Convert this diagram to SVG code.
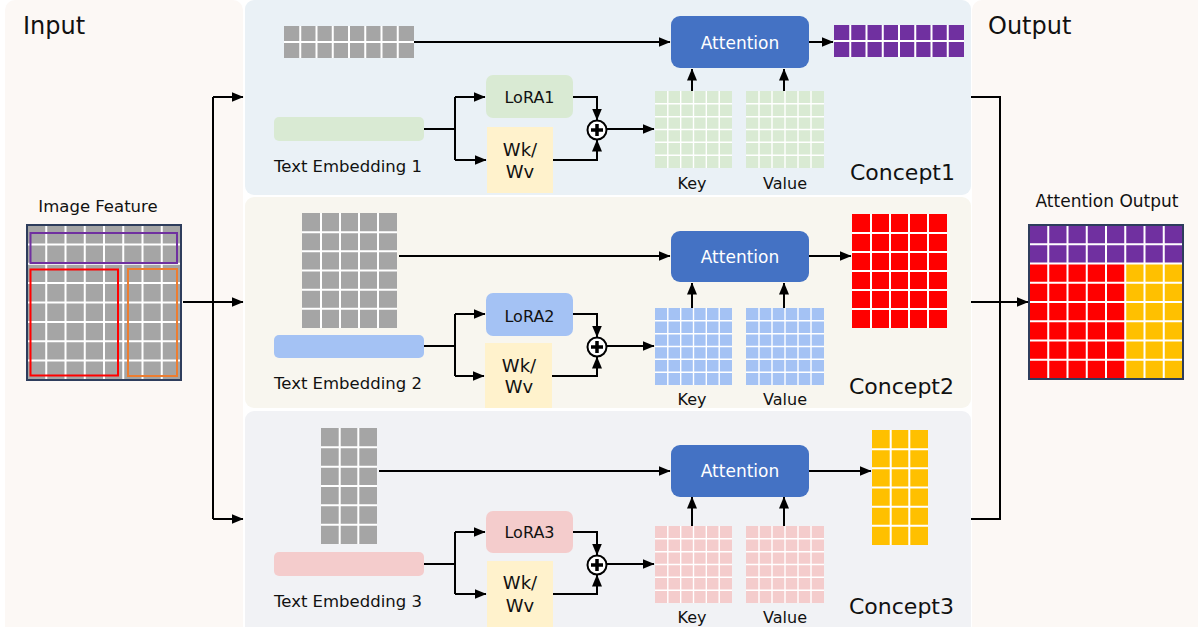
<svg xmlns="http://www.w3.org/2000/svg" width="1198" height="627" viewBox="0 0 1198 627">
<defs>
<marker id="ah" markerUnits="userSpaceOnUse" markerWidth="12" markerHeight="10" refX="11.5" refY="5" orient="auto">
<path d="M0,0 L12,5 L0,10 z" fill="#000"/>
</marker>
<style>
text{font-family:"DejaVu Sans","Liberation Sans",sans-serif;fill:#111}
.c{stroke:#000;stroke-width:2;fill:none}
.a{stroke:#000;stroke-width:2;fill:none;marker-end:url(#ah)}
.gw{stroke:#fff;stroke-width:2;fill:none}
.gt{stroke:#fff;stroke-width:1.4;fill:none}
.att{fill:#4472C4}
.attt{fill:#fff;font-size:17px;text-anchor:middle}
.wk{fill:#FFF2CC}
.lbl{font-size:16px}
.te{font-size:16.5px}
.mid{text-anchor:middle}
.con{font-size:22px}
.gray{fill:#A5A5A5}
</style>
</defs>
<rect width="1198" height="627" fill="#fff"/>
<!-- background panels -->
<rect x="5" y="0" width="238" height="640" rx="10" fill="#FCF8F5"/>
<rect x="972" y="0" width="240" height="640" rx="10" fill="#FCF8F5"/>
<rect x="245" y="0" width="726" height="195" rx="9" fill="#EAF1F6"/>
<rect x="245" y="197" width="726" height="211" rx="9" fill="#F8F6EF"/>
<rect x="245" y="411" width="726" height="225" rx="9" fill="#F1F2F5"/>

<text x="23" y="34" style="font-size:24px">Input</text>
<text x="988" y="34" style="font-size:24px">Output</text>

<!-- Image Feature -->
<g id="image-feature">
<text x="98" y="212" class="mid" style="font-size:16.5px">Image Feature</text>
<rect x="27" y="225" width="154" height="155" class="gray"/>
<path class="gw" d="M46.25 225V380M65.5 225V380M84.75 225V380M104 225V380M123.25 225V380M142.5 225V380M161.75 225V380M27 244.4H181M27 263.75H181M27 283.1H181M27 302.5H181M27 321.9H181M27 341.25H181M27 360.6H181"/>
<rect x="27" y="225" width="154" height="155" fill="none" stroke="#2E3D5C" stroke-width="2"/>
<rect x="30.5" y="233" width="146.5" height="30" fill="none" stroke="#7030A0" stroke-width="2"/>
<rect x="30.5" y="269.5" width="87.5" height="106" fill="none" stroke="#FF0000" stroke-width="2"/>
<rect x="128" y="269" width="49" height="107" fill="none" stroke="#ED7D31" stroke-width="2"/>
</g>

<!-- Attention Output -->
<g id="attention-output">
<text x="1107" y="207" class="mid" style="font-size:17px">Attention Output</text>
<rect x="1029" y="225" width="154" height="38.5" fill="#7030A0"/>
<rect x="1029" y="263.5" width="96.25" height="115.5" fill="#FF0000"/>
<rect x="1125.25" y="263.5" width="57.75" height="115.5" fill="#FFC000"/>
<path class="gw" d="M1048.25 225V379M1067.5 225V379M1086.75 225V379M1106 225V379M1125.25 225V379M1144.5 225V379M1163.75 225V379M1029 244.25H1183M1029 263.5H1183M1029 282.75H1183M1029 302H1183M1029 321.25H1183M1029 340.5H1183M1029 359.75H1183"/>
<rect x="1029" y="225" width="154" height="154" fill="none" stroke="#2E3D5C" stroke-width="2"/>
</g>

<!-- Concept 1 -->
<g id="concept1">
<rect x="284" y="26" width="130" height="32" class="gray"/>
<path class="gw" d="M300.25 26V58M316.5 26V58M332.75 26V58M349 26V58M365.25 26V58M381.5 26V58M397.75 26V58M284 42H414"/>
<rect x="274" y="117" width="150" height="24" rx="5" fill="#D9EAD3"/>
<text x="274" y="172" class="te">Text Embedding 1</text>
<rect x="486" y="75" width="87" height="43" rx="7" fill="#D9EAD3"/>
<text x="529.5" y="103" class="lbl mid">LoRA1</text>
<rect x="487" y="127" width="66" height="66" class="wk"/>
<text x="520" y="156" class="mid" style="font-size:18px">Wk/</text>
<text x="520" y="178" class="mid" style="font-size:18px">Wv</text>
<rect x="671" y="16" width="138" height="52" rx="9" class="att"/>
<text x="740" y="49" class="attt">Attention</text>
<rect x="834" y="25" width="130" height="32" fill="#7030A0"/>
<path class="gw" d="M850.25 25V57M866.5 25V57M882.75 25V57M899 25V57M915.25 25V57M931.5 25V57M947.75 25V57M834 41H964"/>
<rect x="655" y="91" width="77" height="77" fill="#D9EAD3"/>
<path class="gt" d="M667.8 91V168M680.7 91V168M693.5 91V168M706.3 91V168M719.2 91V168M655 103.8H732M655 116.7H732M655 129.5H732M655 142.3H732M655 155.2H732"/>
<rect x="746" y="91" width="78" height="77" fill="#D9EAD3"/>
<path class="gt" d="M759 91V168M772 91V168M785 91V168M798 91V168M811 91V168M746 103.8H824M746 116.7H824M746 129.5H824M746 142.3H824M746 155.2H824"/>
<text x="692" y="189" class="lbl mid">Key</text>
<text x="785" y="189" class="lbl mid">Value</text>
<text x="850" y="180" class="con">Concept1</text>
<circle cx="597" cy="130" r="9.5" fill="#fff" stroke="#000" stroke-width="2"/>
<path d="M591 130H603M597 124V136" stroke="#000" stroke-width="3.5"/>
</g>

<!-- Concept 2 -->
<g id="concept2">
<rect x="302" y="213" width="95" height="115" class="gray"/>
<path class="gw" d="M321 213V328M340 213V328M359 213V328M378 213V328M302 232.2H397M302 251.3H397M302 270.5H397M302 289.7H397M302 308.8H397"/>
<rect x="274" y="335" width="150" height="23" rx="5" fill="#A4C2F4"/>
<text x="274" y="389" class="te">Text Embedding 2</text>
<rect x="486" y="293" width="87" height="43" rx="7" fill="#A4C2F4"/>
<text x="529.5" y="322" class="lbl mid">LoRA2</text>
<rect x="485" y="343" width="67" height="65" class="wk"/>
<text x="519" y="372" class="mid" style="font-size:18px">Wk/</text>
<text x="519" y="393" class="mid" style="font-size:18px">Wv</text>
<rect x="671" y="231" width="138" height="51" rx="9" class="att"/>
<text x="740" y="263" class="attt">Attention</text>
<rect x="852" y="214" width="95" height="114" fill="#FF0000"/>
<path class="gw" d="M871 214V328M890 214V328M909 214V328M928 214V328M852 233H947M852 252H947M852 271H947M852 290H947M852 309H947"/>
<rect x="655" y="308" width="77" height="77" fill="#A4C2F4"/>
<path class="gt" d="M667.8 308V385M680.7 308V385M693.5 308V385M706.3 308V385M719.2 308V385M655 320.8H732M655 333.7H732M655 346.5H732M655 359.3H732M655 372.2H732"/>
<rect x="746" y="308" width="78" height="77" fill="#A4C2F4"/>
<path class="gt" d="M759 308V385M772 308V385M785 308V385M798 308V385M811 308V385M746 320.8H824M746 333.7H824M746 346.5H824M746 359.3H824M746 372.2H824"/>
<text x="692" y="405" class="lbl mid">Key</text>
<text x="785" y="405" class="lbl mid">Value</text>
<text x="849" y="394" class="con">Concept2</text>
<circle cx="597" cy="347" r="9.5" fill="#fff" stroke="#000" stroke-width="2"/>
<path d="M591 347H603M597 341V353" stroke="#000" stroke-width="3.5"/>
</g>

<!-- Concept 3 -->
<g id="concept3">
<rect x="321" y="428" width="56" height="116" class="gray"/>
<path class="gw" d="M339.7 428V544M358.3 428V544M321 447.3H377M321 466.7H377M321 486H377M321 505.3H377M321 524.7H377"/>
<rect x="274" y="552" width="150" height="24" rx="5" fill="#F4CCCC"/>
<text x="274" y="607" class="te">Text Embedding 3</text>
<rect x="486" y="511" width="87" height="42" rx="7" fill="#F4CCCC"/>
<text x="529.5" y="538" class="lbl mid">LoRA3</text>
<rect x="487" y="561" width="66" height="70" class="wk"/>
<text x="520" y="589" class="mid" style="font-size:18px">Wk/</text>
<text x="520" y="612" class="mid" style="font-size:18px">Wv</text>
<rect x="671" y="445" width="138" height="52" rx="9" class="att"/>
<text x="740" y="477" class="attt">Attention</text>
<rect x="872" y="430" width="56" height="115" fill="#FFC000"/>
<path class="gw" d="M890.7 430V545M909.3 430V545M872 449.2H928M872 468.3H928M872 487.5H928M872 506.7H928M872 525.8H928"/>
<rect x="655" y="526" width="77" height="77" fill="#F4CCCC"/>
<path class="gt" d="M667.8 526V603M680.7 526V603M693.5 526V603M706.3 526V603M719.2 526V603M655 538.8H732M655 551.7H732M655 564.5H732M655 577.3H732M655 590.2H732"/>
<rect x="746" y="526" width="78" height="77" fill="#F4CCCC"/>
<path class="gt" d="M759 526V603M772 526V603M785 526V603M798 526V603M811 526V603M746 538.8H824M746 551.7H824M746 564.5H824M746 577.3H824M746 590.2H824"/>
<text x="692" y="623" class="lbl mid">Key</text>
<text x="785" y="623" class="lbl mid">Value</text>
<text x="849" y="614" class="con">Concept3</text>
<circle cx="597" cy="565" r="9.5" fill="#fff" stroke="#000" stroke-width="2"/>
<path d="M591 565H603M597 559V571" stroke="#000" stroke-width="3.5"/>
</g>

<!-- connectors -->
<g id="connectors">
<path class="c" d="M183 302H213M213 97V519"/>
<path class="a" d="M213 97H243"/>
<path class="a" d="M213 302H243"/>
<path class="a" d="M213 519H243"/>
<path class="c" d="M971 97H1000V519H971"/>
<path class="a" d="M971 302H1028"/>

<path class="a" d="M414 42H670"/>
<path class="a" d="M809 42H833"/>
<path class="c" d="M424 129H455M455 97V160"/>
<path class="a" d="M455 97H485"/>
<path class="a" d="M455 160H486"/>
<path class="a" d="M573 97H597V120"/>
<path class="a" d="M553 160H597V140"/>
<path class="a" d="M607 129H654"/>
<path class="a" d="M692 91V69"/>
<path class="a" d="M784 91V69"/>

<path class="a" d="M399 256H670"/>
<path class="a" d="M809 256H851"/>
<path class="c" d="M424 346H455M455 314V376"/>
<path class="a" d="M455 314H485"/>
<path class="a" d="M455 376H484"/>
<path class="a" d="M573 314H597V337"/>
<path class="a" d="M552 376H597V357"/>
<path class="a" d="M607 346H654"/>
<path class="a" d="M692 308V283"/>
<path class="a" d="M784 308V283"/>

<path class="a" d="M379 471H670"/>
<path class="a" d="M809 471H871"/>
<path class="c" d="M424 564H455M455 532V594"/>
<path class="a" d="M455 532H485"/>
<path class="a" d="M455 594H486"/>
<path class="a" d="M573 532H597V555"/>
<path class="a" d="M553 594H597V575"/>
<path class="a" d="M607 564H654"/>
<path class="a" d="M692 526V497"/>
<path class="a" d="M784 526V497"/>
</g>
</svg>
